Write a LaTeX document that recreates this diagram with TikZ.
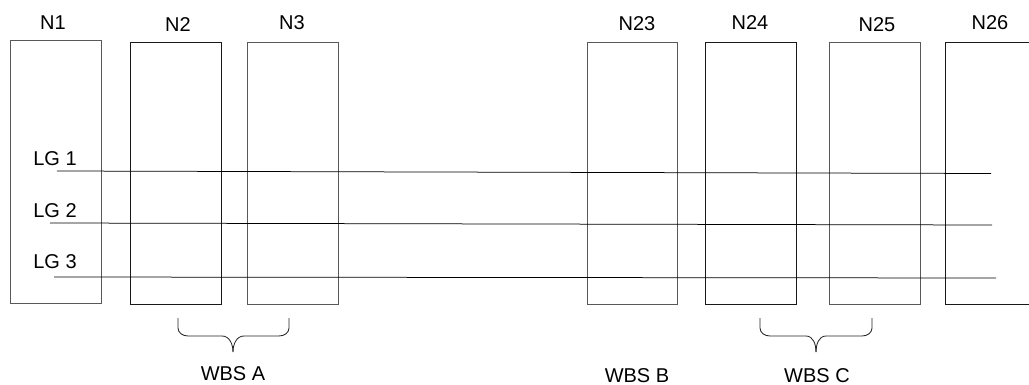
\documentclass[tikz,border=0pt]{standalone}
\usepackage{fontspec}
\setmainfont{Liberation Sans}
\begin{document}
\begin{tikzpicture}[x=1pt,y=-1pt,
  colbox/.style={draw=#1,line width=0.8pt,rectangle,inner sep=0pt,minimum width=91pt,minimum height=262pt},
  lbl/.style={font=\fontsize{20}{23}\selectfont,inner sep=0pt,anchor=base},
  lgline/.style={line width=0.75pt,black},
  bracestyle/.style={line width=0.85pt,black!85}]
\useasboundingbox (0,0) rectangle (1029,385);
\clip (0,0) rectangle (1029,385);
% boxes
\node[colbox=black!65] (n1) at (55.5,171.5) [minimum height=263pt] {};
\node[colbox=black!90] (n2) at (175.5,173) {};
\node[colbox=black!65] (n3) at (292.5,173) {};
\node[colbox=black!65] (n23) at (632,173) [minimum width=90pt] {};
\node[colbox=black!90] (n24) at (750.5,173) {};
\node[colbox=black!65] (n25) at (874.5,173) {};
\node[colbox=black!90] (n26) at (990.5,173) {};
% box labels
\node[lbl] (t1) at (53,30) {N1};
\node[lbl] (t2) at (178,32) {N2};
\node[lbl] (t3) at (292,30) {N3};
\node[lbl] (t23) at (637,31) {N23};
\node[lbl] (t24) at (750,30) {N24};
\node[lbl] (t25) at (877,32) {N25};
\node[lbl] (t26) at (990,30) {N26};
% LG lines
\coordinate (a1) at (57,171);
\coordinate (b1) at (991,173.5);
\coordinate (a2) at (50,223);
\coordinate (b2) at (992,225);
\coordinate (a3) at (54,277);
\coordinate (b3) at (996,278);
\draw[lgline] (a1) -- (b1);
\draw[lgline] (a2) -- (b2);
\draw[lgline] (a3) -- (b3);
\node[lbl] (lg1) at (55,166) {LG 1};
\node[lbl] (lg2) at (55,218) {LG 2};
\node[lbl] (lg3) at (55,269) {LG 3};
% braces
\draw[bracestyle] (178,318) -- (178,328) to[out=-90,in=180] (188,336) -- (222,336) to[out=0,in=90] (233,352);
\draw[bracestyle] (289,318) -- (289,328) to[out=-90,in=0] (279,336) -- (244,336) to[out=180,in=90] (233,352);
\draw[bracestyle] (760,318) -- (760,328) to[out=-90,in=180] (770,336) -- (806,336) to[out=0,in=90] (816,352);
\draw[bracestyle] (872,318) -- (872,328) to[out=-90,in=0] (862,336) -- (826,336) to[out=180,in=90] (816,352);
\node[lbl] (wa) at (233,380) {WBS A};
\node[lbl] (wb) at (637,382) {WBS B};
\node[lbl] (wc) at (817,382) {WBS C};
\end{tikzpicture}
\end{document}
